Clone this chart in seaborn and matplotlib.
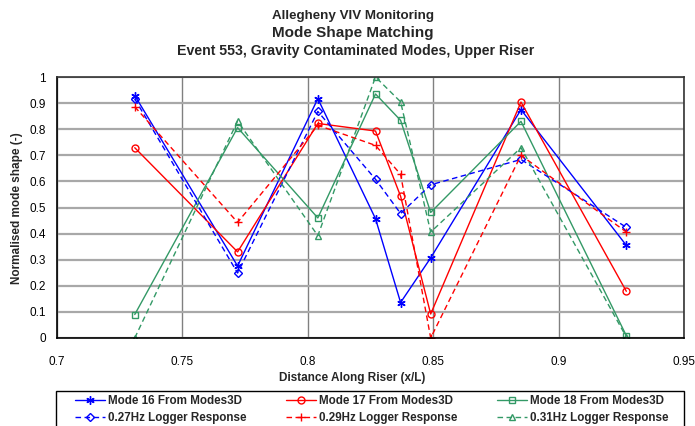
import matplotlib
matplotlib.use("Agg")
import matplotlib.pyplot as plt
from matplotlib.patches import Rectangle
import seaborn as sns
import pandas as pd

# Positions along the riser (x/L)
x_pos = [0.731, 0.772, 0.804, 0.827, 0.837, 0.849, 0.885, 0.927]

# Normalised mode shapes
mode16 = [0.929, 0.276, 0.917, 0.457, 0.136, 0.307, 0.875, 0.355]
mode17 = [0.729, 0.330, 0.822, 0.793, 0.543, 0.092, 0.904, 0.179]
mode18 = [0.090, 0.806, 0.460, 0.935, 0.834, 0.481, 0.830, 0.009]
resp027 = [0.916, 0.249, 0.868, 0.608, 0.477, 0.587, 0.684, 0.424]
resp029 = [0.886, 0.443, 0.815, 0.738, 0.627, 0.000, 0.700, 0.406]
resp031 = [0.000, 0.831, 0.392, 1.000, 0.905, 0.406, 0.729, 0.004]

series_names = [
    "Mode 16 From Modes3D",
    "Mode 17 From Modes3D",
    "Mode 18 From Modes3D",
    "0.27Hz Logger Response",
    "0.29Hz Logger Response",
    "0.31Hz Logger Response",
]
series_values = [mode16, mode17, mode18, resp027, resp029, resp031]

x_ticks = [0.7, 0.75, 0.8, 0.85, 0.9, 0.95]
x_tick_labels = ["0.7", "0.75", "0.8", "0.85", "0.9", "0.95"]
y_ticks = [round(0.1 * i, 1) for i in range(11)]
y_tick_labels = ["0", "0.1", "0.2", "0.3", "0.4", "0.5", "0.6", "0.7", "0.8", "0.9", "1"]

sns.set_style("white")
plt.rcParams["font.family"] = ["Liberation Sans", "DejaVu Sans"]

W, H = 695, 426

BLUE = "#0000FF"
RED = "#FF0000"
GREEN = "#339966"
DASH = (0, (4, 2.5))
styles = [
    dict(color=BLUE, linestyle="-", marker=(6, 2, 0), markersize=6),
    dict(color=RED, linestyle="-", marker="o", markersize=5, markerfacecolor="none"),
    dict(color=GREEN, linestyle="-", marker="s", markersize=5, markerfacecolor="none"),
    dict(color=BLUE, linestyle=DASH, marker="D", markersize=4, markerfacecolor="none"),
    dict(color=RED, linestyle=DASH, marker="+", markersize=6),
    dict(color=GREEN, linestyle=DASH, marker="^", markersize=5, markerfacecolor="none"),
]

frames = []
for name, vals in zip(series_names, series_values):
    frames.append(pd.DataFrame({"x": x_pos, "y": vals, "series": name}))
df = pd.concat(frames, ignore_index=True)

fig = plt.figure(figsize=(W / 100, H / 100), dpi=100)
ax = fig.add_axes([57 / W, 1 - 338 / H, 627 / W, 261 / H])

for name, st in zip(series_names, styles):
    sub = df[df["series"] == name]
    sns.lineplot(data=sub, x="x", y="y", ax=ax, sort=False, estimator=None,
                 lw=1.0, label=name, markeredgecolor=st["color"],
                 markeredgewidth=1.0, **st)

ax.set_xlim(0.7, 0.95)
ax.set_ylim(0, 1)
ax.set_xticks(x_ticks)
ax.set_xticklabels(x_tick_labels)
ax.set_yticks(y_ticks)
ax.set_yticklabels(y_tick_labels)
ax.tick_params(axis="both", direction="out", length=4, width=1, labelsize=8.5,
               colors="black", pad=4)
ax.tick_params(axis="x", pad=9)

ax.grid(True, axis="y", color="#a8a8a8", lw=1.6)
ax.grid(True, axis="x", color="#808080", lw=1.0)
ax.set_axisbelow(True)
for side in ["left", "bottom"]:
    ax.spines[side].set_color("black")
    ax.spines[side].set_linewidth(1.2)
for side in ["top", "right"]:
    ax.spines[side].set_color("#333333")
    ax.spines[side].set_linewidth(1.2)

ax.set_xlabel("")
ax.set_ylabel("")
fig.text(352 / W, 1 - 378 / H, "Distance Along Riser (x/L)", ha="center", va="center",
         fontsize=8.5, fontweight="bold")
fig.text(17 / W, 1 - 208 / H, "Normalised mode shape (-)", ha="center", va="center",
         rotation=90, fontsize=8.5, fontweight="bold")

fig.text(353 / W, 1 - 15.5 / H, "Allegheny VIV Monitoring", ha="center", va="center",
         fontsize=9.6, fontweight="bold")
fig.text(353 / W, 1 - 33.5 / H, "Mode Shape Matching", ha="center", va="center",
         fontsize=11, fontweight="bold")
fig.text(356 / W, 1 - 50.5 / H, "Event 553, Gravity Contaminated Modes, Upper Riser",
         ha="center", va="center", fontsize=10.2, fontweight="bold")

ax.get_legend().remove()
handles, labels = ax.get_legend_handles_labels()
order = [0, 3, 1, 4, 2, 5]
leg = fig.legend([handles[i] for i in order], [labels[i] for i in order], ncol=3,
                 loc="upper left", bbox_to_anchor=(75 / W, 1 - 395 / H),
                 frameon=False, handlelength=2.6, handletextpad=0.25,
                 borderpad=0.0, borderaxespad=0.0, labelspacing=0.42,
                 columnspacing=3.35, prop={"weight": "bold", "size": 8.4})

# Legend border
fig.add_artist(Rectangle((56 / W, 1 - 440 / H), 628 / W, 49 / H,
                         transform=fig.transFigure, fill=False,
                         edgecolor="black", lw=1.0))

fig.savefig("out.png", dpi=100)
